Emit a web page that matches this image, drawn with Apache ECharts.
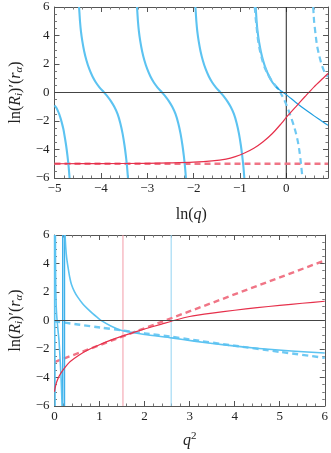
<!DOCTYPE html>
<html><head><meta charset="utf-8">
<script src="https://cdn.jsdelivr.net/npm/echarts@6/dist/echarts.min.js"></script>
<style>html,body{margin:0;padding:0;background:#fff}#c{width:331px;height:453px}</style>
</head><body><div id="c"></div>
<script>
// ---------- TOP PANEL: x = ln(q) ----------
const topB1x = [-5.0, -4.96, -4.93, -4.90, -4.87, -4.84, -4.81, -4.79, -4.75, -4.72, -4.695, -4.675];
const topB1y = [-0.9, -1.07, -1.27, -1.5, -1.8, -2.15, -2.55, -2.9, -3.7, -4.45, -5.2, -6.0];
const topB2x = [-4.47, -4.46, -4.45, -4.43, -4.40, -4.36, -4.31, -4.25, -4.18, -4.11, -4.03, -3.93, -3.85, -3.78, -3.71, -3.64, -3.58, -3.53, -3.49, -3.46, -3.435, -3.415];
const topB2y = [6.0, 5.5, 5.0, 4.3, 3.6, 2.9, 2.25, 1.65, 1.12, 0.72, 0.36, 0.0, -0.3, -0.62, -1.0, -1.5, -2.15, -2.9, -3.7, -4.45, -5.2, -6.0];
const topB3x = [-3.22, -3.21, -3.20, -3.18, -3.15, -3.11, -3.06, -3.00, -2.93, -2.86, -2.78, -2.68, -2.60, -2.53, -2.46, -2.39, -2.33, -2.28, -2.24, -2.21, -2.185, -2.165];
const topB3y = [6.0, 5.5, 5.0, 4.3, 3.6, 2.9, 2.25, 1.65, 1.12, 0.72, 0.36, 0.0, -0.3, -0.62, -1.0, -1.5, -2.15, -2.9, -3.7, -4.45, -5.2, -6.0];
const topB4x = [-1.96, -1.95, -1.94, -1.92, -1.89, -1.85, -1.80, -1.74, -1.67, -1.60, -1.52, -1.42, -1.34, -1.27, -1.20, -1.13, -1.07, -1.02, -0.98, -0.95, -0.925, -0.905];
const topB4y = [6.0, 5.5, 5.0, 4.3, 3.6, 2.9, 2.25, 1.65, 1.12, 0.72, 0.36, 0.0, -0.3, -0.62, -1.0, -1.5, -2.15, -2.9, -3.7, -4.45, -5.2, -6.0];
const topB5x = [-0.66, -0.65, -0.64, -0.62, -0.59, -0.55, -0.50, -0.44, -0.37, -0.30, -0.22, -0.16];
const topB5y = [6.0, 5.5, 5.0, 4.3, 3.6, 2.9, 2.25, 1.65, 1.12, 0.72, 0.4, 0.22];
const topThinX = [-0.22, -0.16, -0.10, 0.0, 0.2, 0.4, 0.6, 0.8, 0.9];
const topThinY = [0.4, 0.22, 0.08, -0.15, -0.68, -1.18, -1.64, -2.08, -2.3];
const topDashBlue1X = [-0.68, -0.67, -0.66, -0.64, -0.61, -0.57, -0.52, -0.47, -0.40, -0.32, -0.25, -0.18, -0.11, -0.04, 0.03, 0.10, 0.16, 0.21, 0.25, 0.28, 0.31, 0.35];
const topDashBlue1Y = [6.0, 5.6, 5.2, 4.59, 3.7, 2.96, 2.3, 1.79, 1.3, 0.86, 0.55, 0.28, -0.1, -0.54, -1.08, -1.71, -2.3, -2.87, -3.45, -4.03, -4.8, -6.0];
const topDashBlue2X = [0.58, 0.59, 0.60, 0.63, 0.66, 0.70, 0.75, 0.80, 0.85, 0.9];
const topDashBlue2Y = [6.0, 5.5, 5.0, 4.13, 3.35, 2.73, 2.1, 1.62, 1.3, 1.1];
const topRedX = [-5.0, -4.0, -3.0, -2.5, -2.0, -1.6, -1.3, -1.1, -0.9, -0.7, -0.5, -0.3, -0.1, 0.0, 0.2, 0.4, 0.6, 0.8, 0.9];
const topRedY = [-5.0, -4.99, -4.97, -4.94, -4.89, -4.8, -4.67, -4.5, -4.25, -3.92, -3.46, -2.88, -2.15, -1.75, -1.02, -0.3, 0.4, 1.02, 1.33];
const topRedDashX = [-5.0, 0.9];
const topRedDashY = [-5.0, -5.0];
const topYRange = [-6, 6];

// ---------- BOTTOM PANEL: x = q^2 ----------
const botB3X = [0.0016, 0.003, 0.0046, 0.008, 0.013];
const botB3Y = [6.0, 2.0, 0.0, -2.0, -6.0];
const botB4X = [0.020, 0.023, 0.028, 0.037, 0.049, 0.058, 0.077, 0.102, 0.127, 0.15, 0.168];
const botB4Y = [6.0, 3.66, 2.26, 1.09, 0.35, 0.0, -0.66, -1.47, -2.87, -4.27, -6.0];
const botPoleLines = [0.182, 0.222];
const botBlueX = [0.235, 0.25, 0.27, 0.30, 0.34, 0.375, 0.44, 0.52, 0.62, 0.73, 0.85, 0.95, 1.05, 1.25, 1.52, 2.0, 2.6, 3.1, 3.82, 4.54, 5.26, 6.0];
const botBlueY = [6.0, 5.1, 4.4, 3.75, 3.0, 2.55, 2.05, 1.62, 1.2, 0.83, 0.48, 0.22, -0.03, -0.38, -0.72, -0.98, -1.22, -1.45, -1.73, -1.96, -2.14, -2.28];
const botBlueDashX = [0.0, 0.52, 1.06, 1.52, 2.0, 2.6, 3.0, 4.0, 5.0, 6.0];
const botBlueDashY = [-0.05, -0.28, -0.51, -0.7, -0.9, -1.14, -1.33, -1.77, -2.2, -2.62];
const botRedX = [0.0, 0.01, 0.025, 0.05, 0.1, 0.16, 0.23, 0.35, 0.55, 0.75, 1.0, 1.25, 1.52, 2.0, 2.38, 2.65, 3.0, 3.5, 4.0, 4.5, 5.0, 5.5, 6.0];
const botRedY = [-5.0, -4.8, -4.58, -4.3, -3.92, -3.6, -3.3, -2.88, -2.42, -2.05, -1.7, -1.38, -1.08, -0.6, -0.25, 0.0, 0.28, 0.52, 0.72, 0.9, 1.06, 1.21, 1.35];
const botRedDashX = [0.0, 2.38, 6.0];
const botRedDashY = [-2.92, -0.09, 4.21];
const botVLinePink = 1.52;
const botVLineBlue = 2.59;
const botYRange = [-6, 6];

const zip = (xs, ys) => xs.map((x, i) => [x, ys[i]]);
const vert = (v, range) => range.map(y => [v, y]);

const C_THICK = '#5CC3F1', C_THIN = '#1E9EE0', C_RED = '#E6304B', C_RDASH = '#F07586', C_BDASH = '#6FC9F3';
const FONT = 'Liberation Serif';
const fmt = v => (v < 0 ? '\u2212' + Math.abs(v) : '' + v);

function axisX(grid, min, max, pos, showLabel) {
  return {
    type: 'value', gridIndex: grid, position: pos, min: min, max: max, interval: 1,
    axisLine: { show: true, onZero: false, lineStyle: { color: '#555', width: 1 } },
    axisTick: { show: true, inside: true, length: 5, lineStyle: { color: '#555' } },
    minorTick: { show: true, splitNumber: 5, length: 2.5, lineStyle: { color: '#777' } },
    splitLine: { show: false },
    axisLabel: { show: showLabel, color: '#222', fontFamily: FONT, fontSize: 13, margin: 4, formatter: fmt,
      showMaxLabel: (max === 6) }
  };
}
function axisY(grid, pos, showLabel, title) {
  return {
    type: 'value', gridIndex: grid, position: pos, min: -6, max: 6, interval: 2,
    axisLine: { show: true, onZero: false, lineStyle: { color: '#555', width: 1 } },
    axisTick: { show: true, inside: true, length: 5, lineStyle: { color: '#555' } },
    minorTick: { show: true, splitNumber: 4, length: 2.5, lineStyle: { color: '#777' } },
    splitLine: { show: false },
    axisLabel: { show: showLabel, color: '#222', fontFamily: FONT, fontSize: 13, margin: 5, formatter: fmt },
    name: title ? '{n|ln(}{i|R}{s|i}{n|)\u2032(}{i|r}{s|\u03B1}{n|)}' : '',
    nameLocation: 'middle', nameGap: 30, nameRotate: 90,
    nameTextStyle: {
      rich: {
        n: { fontFamily: FONT, fontSize: 16, color: '#222' },
        i: { fontFamily: FONT, fontSize: 16, fontStyle: 'italic', color: '#222' },
        s: { fontFamily: FONT, fontSize: 11, fontStyle: 'italic', color: '#222', padding: [6, 0, 0, 0] }
      }
    }
  };
}

function line(xi, yi, data, color, width, dashed, z, sm) {
  return {
    type: 'line', xAxisIndex: xi, yAxisIndex: yi, data: data, showSymbol: false, symbol: 'none',
    smooth: sm === undefined ? 0.2 : sm, clip: true, z: z || 2, animation: false,
    lineStyle: { color: color, width: width, type: dashed ? [6, 4] : 'solid', cap: 'butt', join: 'round' }
  };
}
function hline(xi, yi, val, color, width) {
  return { type: 'line', xAxisIndex: xi, yAxisIndex: yi, data: [], z: 1, color: color,
    markLine: { silent: true, symbol: 'none', label: { show: false }, animation: false,
      lineStyle: { color: color, width: width, type: 'solid', opacity: 1 }, data: [{ yAxis: val }] } };
}

const chart = echarts.init(document.getElementById('c'), null, { renderer: 'canvas' });
const xTop0 = axisX(0, -5, 0.9, 'bottom', true);
xTop0.name = '{n|ln(}{i|q}{n|)}';
xTop0.nameLocation = 'middle';
xTop0.nameGap = 29;
xTop0.nameTextStyle = { rich: {
  n: { fontFamily: FONT, fontSize: 16, color: '#222' },
  i: { fontFamily: FONT, fontSize: 16, fontStyle: 'italic', color: '#222' } } };
const xBot0 = axisX(1, 0, 6, 'bottom', true);
xBot0.name = '{i|q}{p|2}';
xBot0.nameLocation = 'middle';
xBot0.nameGap = 25;
xBot0.nameTextStyle = { rich: {
  i: { fontFamily: FONT, fontSize: 16, fontStyle: 'italic', color: '#222' },
  p: { fontFamily: FONT, fontSize: 11, color: '#222', padding: [0, 0, 8, 0] } } };

const option = {
  animation: false,
  backgroundColor: '#fff',
  grid: [
    { left: 49, right: 3, top: 7, height: 171, containLabel: false },
    { left: 49, right: 3, top: 235, height: 171, containLabel: false }
  ],
  xAxis: [ xTop0, axisX(0, -5, 0.9, 'top', false), xBot0, axisX(1, 0, 6, 'top', false) ],
  yAxis: [ axisY(0, 'left', true, true), axisY(0, 'right', false, false),
           axisY(1, 'left', true, true), axisY(1, 'right', false, false) ],
  series: [
    hline(0, 0, 0, '#444', 1),
    line(0, 0, vert(0, topYRange), '#222', 1, false, 1, false),
    line(0, 0, zip(topRedDashX, topRedDashY), C_RDASH, 2.4, true, 2, false),
    line(0, 0, zip(topB1x, topB1y), C_THICK, 2.1, false, 3),
    line(0, 0, zip(topB2x, topB2y), C_THICK, 2.1, false, 3),
    line(0, 0, zip(topB3x, topB3y), C_THICK, 2.1, false, 3),
    line(0, 0, zip(topB4x, topB4y), C_THICK, 2.1, false, 3),
    line(0, 0, zip(topB5x, topB5y), C_THICK, 2.1, false, 3),
    line(0, 0, zip(topDashBlue1X, topDashBlue1Y), C_BDASH, 2.2, true, 3),
    line(0, 0, zip(topDashBlue2X, topDashBlue2Y), C_BDASH, 2.2, true, 3),
    line(0, 0, zip(topThinX, topThinY), C_THIN, 1.2, false, 4),
    line(0, 0, zip(topRedX, topRedY), C_RED, 1.2, false, 4, 0.3),

    hline(2, 2, 0, '#444', 1),
    line(2, 2, vert(botVLinePink, botYRange), '#F39AA8', 1, false, 1, false),
    line(2, 2, vert(botVLineBlue, botYRange), '#92D4F2', 1, false, 1, false),
    line(2, 2, vert(botPoleLines[0], botYRange), '#3FB0EA', 1.4, false, 3, false),
    line(2, 2, vert(botPoleLines[1], botYRange), '#3FB0EA', 1.4, false, 3, false),
    line(2, 2, zip(botRedDashX, botRedDashY), C_RDASH, 2.4, true, 2, false),
    line(2, 2, zip(botBlueDashX, botBlueDashY), C_BDASH, 2.4, true, 2),
    line(2, 2, zip(botB3X, botB3Y), C_THICK, 1.6, false, 3),
    line(2, 2, zip(botB4X, botB4Y), C_THICK, 1.6, false, 3),
    line(2, 2, zip(botBlueX, botBlueY), C_THICK, 1.6, false, 3),
    line(2, 2, zip(botRedX, botRedY), C_RED, 1.2, false, 4)
  ]
};
chart.setOption(option);
</script></body></html>
